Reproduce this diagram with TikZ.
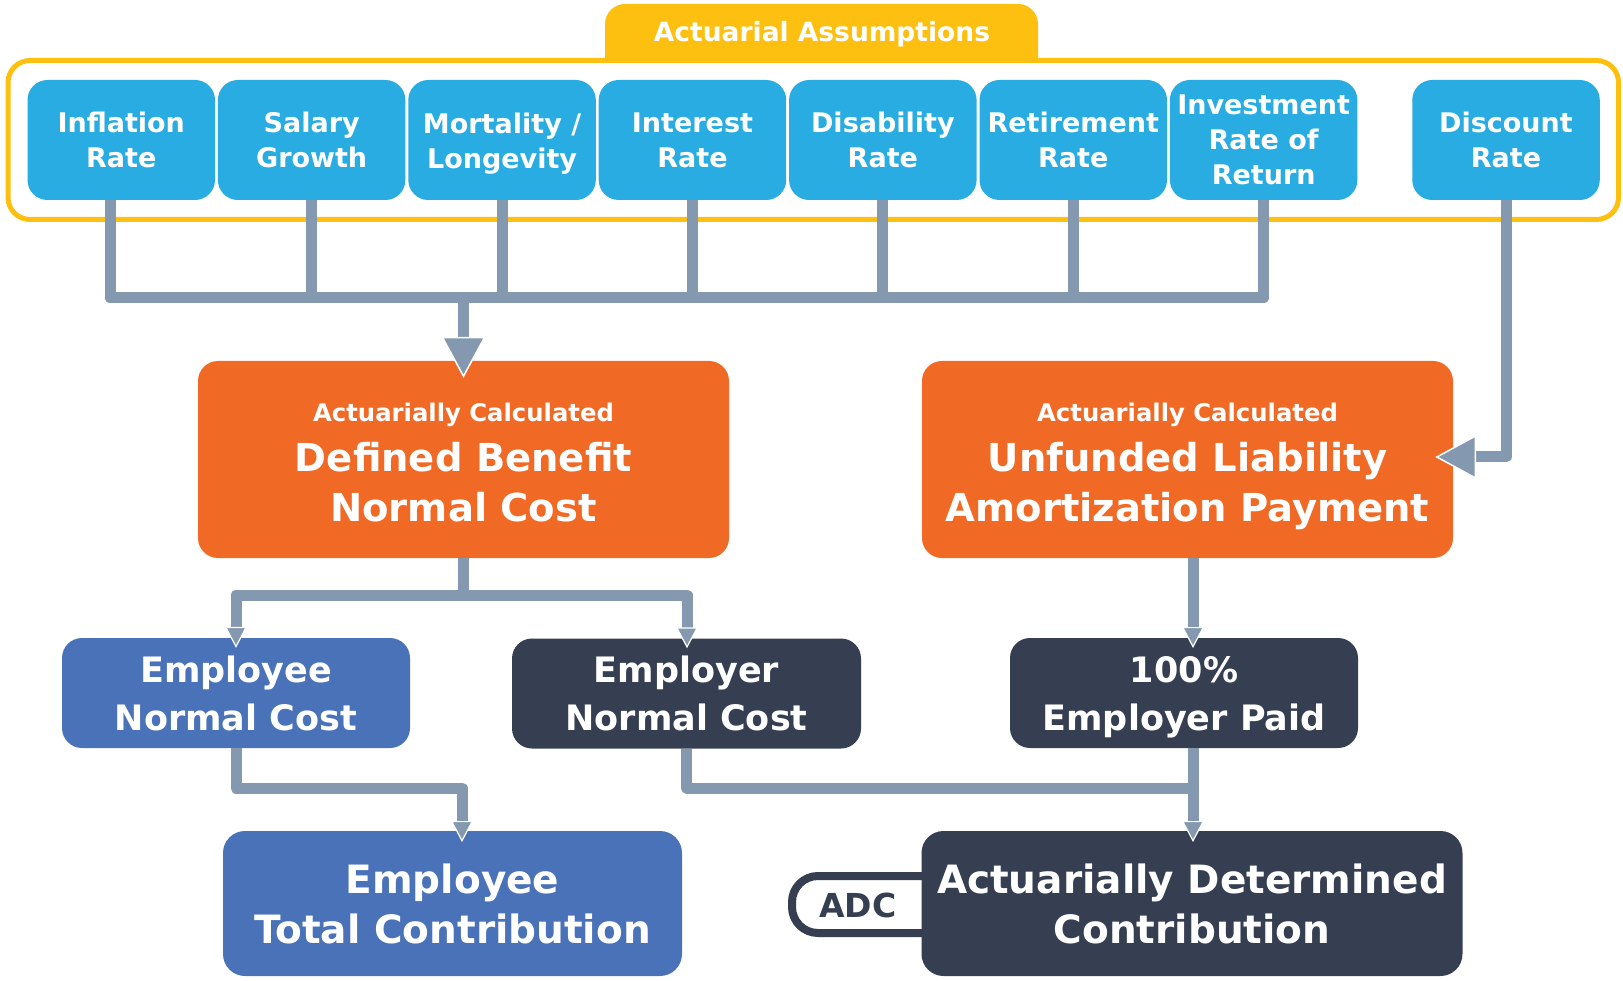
\documentclass[tikz,border=0pt]{standalone}
\usepackage{fontspec}
\setmainfont{DejaVu Sans}
\usetikzlibrary{arrows.meta,calc}
\definecolor{ylw}{HTML}{FDC010}
\definecolor{sky}{HTML}{29ACE2}
\definecolor{orng}{HTML}{F06A25}
\definecolor{navy}{HTML}{353F51}
\definecolor{mblue}{HTML}{4A72B8}
\definecolor{conn}{HTML}{8498B0}
\newcommand\myfs[2]{\fontsize{#1}{#2}\selectfont\bfseries}
\begin{document}
\begin{tikzpicture}[x=1pt,y=-1pt,
  box/.style={rounded corners=20, inner sep=0, align=center, text=white},
  assum/.style={box, fill=sky, minimum width=187.5, minimum height=120, font=\myfs{27}{35}},
  calcbox/.style={box, fill=orng, minimum width=531, minimum height=197, font=\myfs{38.5}{50}},
  midbox/.style={box, minimum width=348, minimum height=110, font=\myfs{35}{48}},
  botbox/.style={box, minimum height=145, font=\myfs{39}{50}, rounded corners=22},
  wire/.style={draw=conn, line width=11, line join=round},
  arrS/.style={wire, -{Triangle[width=22pt,length=21pt,fill=conn,color=white,line width=1.2pt]}},
  arrB/.style={wire, -{Triangle[width=44pt,length=41pt,fill=conn,color=white,line width=1.5pt]}}
]
\useasboundingbox (0,0) rectangle (1623,981);
\fill[white] (0,0) rectangle (1623,981);

% tab and frame
\fill[ylw] (605,62) -- (605,24) arc[start angle=180,end angle=270,radius=20]
  -- (1018,4) arc[start angle=270,end angle=360,radius=20] -- (1038,62) -- cycle;
\draw[ylw, line width=5, rounded corners=22] (8,60.5) rectangle (1618.5,219.5);
\node[text=white, font=\myfs{26.5}{30}] (tab) at (822,34) {Actuarial Assumptions};

% assumption boxes
\node[assum] (infl) at (121.25,140) {Inflation\\Rate};
\node[assum] (sal)  at (311.65,140) {Salary\\Growth};
\node[assum] (mort) at (502.05,140) {\rule{0pt}{27pt}Mortality /\\Longevity};
\node[assum] (intr) at (692.45,140) {Interest\\Rate};
\node[assum] (dis)  at (882.85,140) {Disability\\Rate};
\node[assum] (ret)  at (1073.25,140) {Retirement\\Rate};
\node[assum] (inv)  at (1263.65,140) {Investment\\Rate of\\Return};
\node[assum] (disc) at (1506,140) {Discount\\Rate};

% calculated boxes
\node[calcbox] (o1) at (463.5,459.5) {{\myfs{24.3}{50}\rule{0pt}{25pt}Actuarially Calculated}\\Defined Benefit\\Normal Cost};
\node[calcbox] (o2) at (1187.5,459.5) {{\myfs{24.3}{50}\rule{0pt}{33pt}Actuarially Calculated}\\Unfunded Liability\\Amortization Payment};

% middle boxes
\node[midbox, fill=mblue] (eNC) at (236,693) {Employee\\Normal Cost};
\node[midbox, fill=navy, minimum width=349] (rNC) at (686.5,693.5) {Employer\\Normal Cost};
\node[midbox, fill=navy] (pay) at (1184,693) {\rule{0pt}{35pt}100\%\\Employer Paid};

% bottom boxes
\draw[navy, line width=8, rounded corners=26] (928,876) -- (792,876) -- (792,933) -- (928,933);
\node[text=navy, font=\myfs{33}{40}] (adc) at (858,905) {ADC};
\node[botbox, fill=mblue, minimum width=459] (tot) at (452.5,903.5) {Employee\\Total Contribution};
\node[botbox, fill=navy, minimum width=541] (adcbox) at (1192,903.5) {Actuarially Determined\\Contribution};

% connector coordinates
\coordinate (inflout) at (110,200);
\coordinate (spineL) at (110,298);
\coordinate (spineR) at (1263.65,298);
\coordinate (split1) at (463.5,595);
\coordinate (low) at (0,788);
\coordinate (payin) at (1193,648);
\coordinate (totin) at (462,842);
\coordinate (adcin) at (1193,842);

% top connectors
\draw[wire] (inflout) -- (spineL) -- (spineR) -- (inv.south);
\foreach \n in {sal,mort,intr,dis,ret}{\draw[wire] (\n.south) -- (\n.south |- spineL);}
\draw[arrB] (o1.north |- spineL) -- ($(o1.north)+(0,17)$);
\draw[arrB] (disc.south) |- ($(o2.east)+(-18,-2.5)$);

% middle connectors
\draw[wire] (o1.south) -- (split1);
\draw[arrS] (split1) -| ($(eNC.north)+(0,10)$);
\draw[arrS] (split1) -| ($(rNC.north)+(0.5,10)$);
\draw[arrS] (o2.south -| payin) -- (payin);

% lower connectors
\draw[arrS] (eNC.south) -- (eNC.south |- low) -| (totin);
\draw[wire] (rNC.south) -- (rNC.south |- low) -- (adcin |- low);
\draw[arrS] (pay.south -| adcin) -- (adcin);
\end{tikzpicture}
\end{document}
